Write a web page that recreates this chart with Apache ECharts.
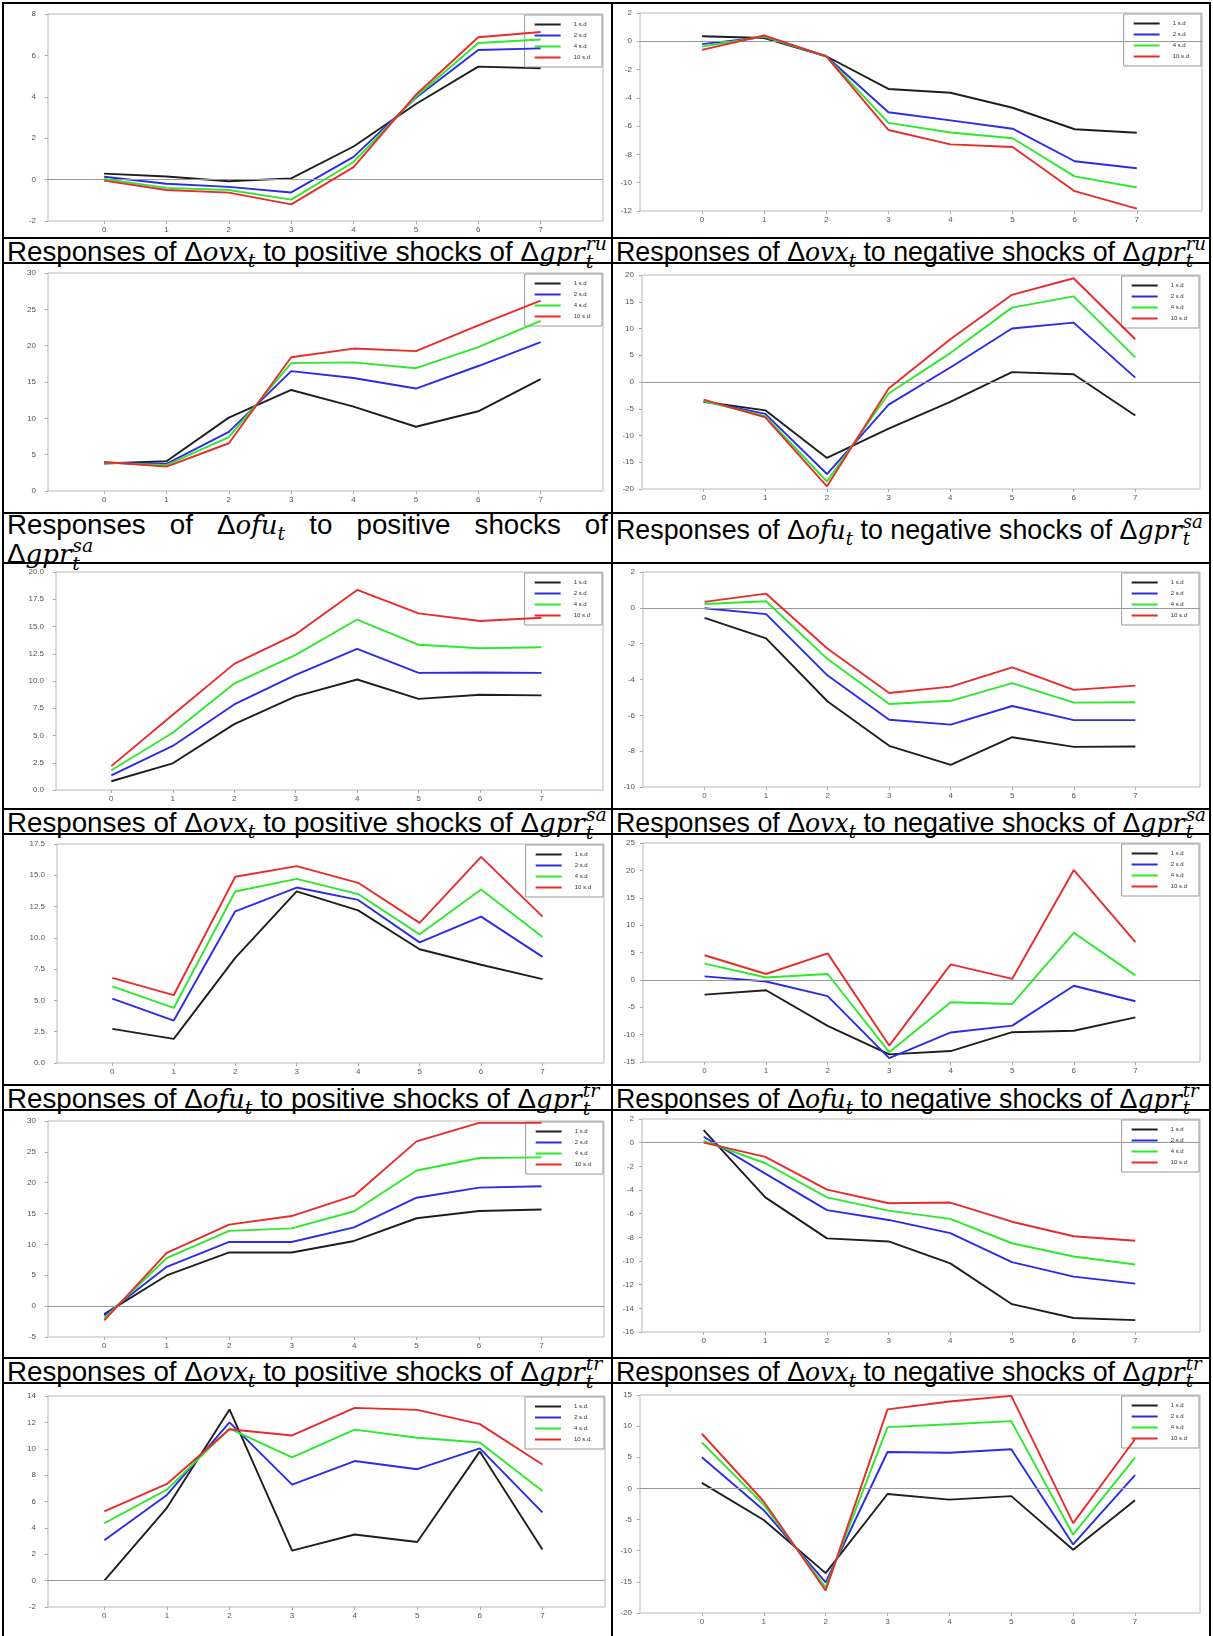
<!DOCTYPE html>
<html><head><meta charset="utf-8">
<script src="https://cdn.jsdelivr.net/npm/echarts/dist/echarts.min.js"></script>
<style>
html,body{margin:0;padding:0;background:#fff;}
body{width:1213px;height:1636px;position:relative;overflow:hidden;font-family:"Liberation Sans",Arial,sans-serif;}
.ln{position:absolute;background:#000;}
.cap{position:absolute;font-size:22px;color:#000;white-space:nowrap;overflow:visible;}
.ci{display:inline-block;white-space:nowrap;}
.m{font-family:"DejaVu Serif","Liberation Serif",serif;font-style:italic;font-size:0.94em;}
.sb{font-size:0.68em;vertical-align:-0.32em;line-height:0;}
.ss{display:inline-flex;flex-direction:column;font-size:0.68em;line-height:0.95;vertical-align:0.6em;margin-left:1px;}
.chart{position:absolute;}
.just{text-align:justify;text-align-last:justify;white-space:normal;}
</style></head>
<body>
<div id="root"></div>
<script>
// ---------------- data ----------------
const HORIZON = [0, 1, 2, 3, 4, 5, 6, 7];
const SD_LABELS = ['1 s.d', '2 s.d', '4 s.d', '10 s.d'];
const SD_LABELS_DOT = ['1 s.d.', '2 s.d.', '4 s.d.', '10 s.d.'];

// each: [1 s.d, 2 s.d, 4 s.d, 10 s.d]
const ovxPosRu = [
  [0.29, 0.15, -0.08, 0.06, 1.6, 3.65, 5.46, 5.38],
  [0.14, -0.2, -0.35, -0.62, 1.1, 3.95, 6.26, 6.34],
  [0.03, -0.4, -0.5, -0.97, 0.85, 4.0, 6.6, 6.77],
  [-0.05, -0.5, -0.63, -1.2, 0.6, 4.1, 6.88, 7.13]];
const ovxNegRu = [
  [0.36, 0.23, -1.06, -3.37, -3.64, -4.7, -6.22, -6.47],
  [-0.2, 0.3, -1.06, -5.02, -5.59, -6.18, -8.48, -8.98],
  [-0.38, 0.34, -1.06, -5.77, -6.45, -6.86, -9.55, -10.34],
  [-0.61, 0.41, -1.06, -6.27, -7.29, -7.47, -10.6, -11.83]];
const ofuPosSa = [
  [3.78, 4.1, 10.1, 13.9, 11.6, 8.84, 10.97, 15.4],
  [3.88, 3.73, 8.13, 16.5, 15.55, 14.1, 17.2, 20.5],
  [3.9, 3.55, 7.4, 17.6, 17.7, 16.9, 19.8, 23.4],
  [4.0, 3.35, 6.57, 18.4, 19.6, 19.25, 22.8, 26.2]];
const ofuNegSa = [
  [-3.7, -5.3, -14.2, -8.7, -3.7, 1.84, 1.46, -6.27],
  [-3.6, -5.95, -17.2, -4.24, 2.7, 10.0, 11.1, 0.82],
  [-3.55, -6.4, -18.6, -2.15, 5.4, 13.9, 16.0, 4.6],
  [-3.3, -6.6, -19.5, -1.2, 8.0, 16.3, 19.4, 8.0]];
const ovxPosSa = [
  [0.8, 2.45, 6.04, 8.59, 10.14, 8.36, 8.74, 8.68],
  [1.34, 4.04, 7.85, 10.56, 12.94, 10.75, 10.78, 10.75],
  [1.81, 5.25, 9.76, 12.4, 15.64, 13.32, 13.0, 13.1],
  [2.19, 6.9, 11.57, 14.28, 18.35, 16.2, 15.5, 15.8]];
const ovxNegSa = [
  [-0.56, -1.7, -5.23, -7.7, -8.76, -7.22, -7.76, -7.74],
  [-0.02, -0.35, -3.78, -6.25, -6.52, -5.48, -6.27, -6.27],
  [0.21, 0.37, -2.86, -5.37, -5.19, -4.2, -5.29, -5.27],
  [0.33, 0.79, -2.28, -4.75, -4.4, -3.32, -4.58, -4.34]];
const ofuPosTr = [
  [2.73, 1.93, 8.4, 13.72, 12.2, 9.09, 7.85, 6.7],
  [5.15, 3.39, 12.12, 14.02, 13.03, 9.64, 11.7, 8.48],
  [6.12, 4.4, 13.7, 14.71, 13.5, 10.28, 13.86, 10.06],
  [6.8, 5.43, 14.88, 15.73, 14.4, 11.2, 16.47, 11.7]];
const ofuNegTr = [
  [-2.7, -1.9, -8.4, -13.6, -13.0, -9.56, -9.3, -6.86],
  [0.63, -0.3, -2.96, -14.3, -9.6, -8.36, -1.07, -3.9],
  [2.96, 0.44, 1.07, -13.2, -4.1, -4.4, 8.6, 0.82],
  [4.5, 1.07, 4.84, -12.0, 2.83, 0.19, 20.06, 6.9]];
const ovxPosTr = [
  [-1.3, 4.97, 8.7, 8.7, 10.56, 14.24, 15.42, 15.65],
  [-1.53, 6.38, 10.4, 10.4, 12.77, 17.57, 19.2, 19.43],
  [-2.0, 7.8, 12.2, 12.6, 15.37, 21.98, 24.0, 24.1],
  [-2.3, 8.64, 13.2, 14.6, 17.9, 26.7, 29.7, 29.7]];
const ovxNegTr = [
  [1.06, -4.62, -8.09, -8.35, -10.2, -13.65, -14.82, -15.0],
  [0.5, -2.62, -5.7, -6.53, -7.65, -10.1, -11.32, -11.91],
  [0.15, -1.74, -4.62, -5.74, -6.44, -8.5, -9.62, -10.3],
  [0.0, -1.2, -3.97, -5.12, -5.06, -6.68, -7.91, -8.29]];
const row6Pos = [
  [0.0, 5.52, 12.98, 2.28, 3.5, 2.93, 9.8, 2.36],
  [3.06, 6.5, 12.0, 7.28, 9.07, 8.45, 10.03, 5.18],
  [4.35, 6.9, 11.53, 9.35, 11.45, 10.83, 10.47, 6.79],
  [5.26, 7.33, 11.48, 11.01, 13.1, 12.95, 11.87, 8.81]];
const row6Neg = [
  [0.9, -5.06, -13.6, -0.9, -1.8, -1.24, -9.85, -1.9],
  [5.0, -3.5, -15.1, 5.85, 5.74, 6.3, -9.0, 2.14],
  [7.37, -2.6, -15.9, 9.85, 10.3, 10.8, -7.43, 4.95],
  [8.78, -2.1, -16.4, 12.7, 13.96, 14.86, -5.57, 7.9]];

// y-axis tick ranges: [min, max, step, decimals]
const Y_OVX_POS_RU = [-2, 8, 2, 0];
const Y_OVX_NEG_RU = [-12, 2, 2, 0];
const Y_OFU_POS_SA = [0, 30, 5, 0];
const Y_OFU_NEG_SA = [-20, 20, 5, 0];
const Y_OVX_POS_SA = [0, 20, 2.5, 1];
const Y_OVX_NEG_SA = [-10, 2, 2, 0];
const Y_OFU_POS_TR = [0, 17.5, 2.5, 1];
const Y_OFU_NEG_TR = [-15, 25, 5, 0];
const Y_OVX_POS_TR = [-5, 30, 5, 0];
const Y_OVX_NEG_TR = [-16, 2, 2, 0];
const Y_ROW6_POS = [-2, 14, 2, 0];
const Y_ROW6_NEG = [-20, 15, 5, 0];

// captions: [response variable, sign, shock superscript]
const CAPTIONS = [
  ['ovx', 'positive', 'ru'], ['ovx', 'negative', 'ru'],
  ['ofu', 'positive', 'sa'], ['ofu', 'negative', 'sa'],
  ['ovx', 'positive', 'sa'], ['ovx', 'negative', 'sa'],
  ['ofu', 'positive', 'tr'], ['ofu', 'negative', 'tr'],
  ['ovx', 'positive', 'tr'], ['ovx', 'negative', 'tr']];

// ---------------- layout ----------------
const COLORS = ['#1e1e1e', '#2b2be8', '#2de82d', '#e82b2b'];
const COLS = [{cellL: 4, cellR: 611, xMin: -0.9, xMax: 8, labMargin: 12, capW: 600},
              {cellL: 613, cellR: 1209, xMin: -1, xMax: 8.05, labMargin: 8, capW: 590}];
const CHART_ROWS = [[4, 237], [264, 512], [564, 808], [835, 1084], [1111, 1357], [1384, 1640]];
const CAP_ROWS = [[239, 262], [514, 562], [810, 833], [1086, 1109], [1359, 1382]];
const HLINES = [2, 237, 262, 512, 562, 808, 833, 1084, 1109, 1357, 1382];
// per panel plot box: [plotLeft, plotRight (page px), top, bottom (px inside cell)]
const BOX = [
  [48, 603, 10, 16], [640, 1202, 9, 26],
  [48, 603, 9, 21], [642, 1200, 11, 23],
  [56, 603, 8, 18], [643, 1200, 8, 21],
  [57, 604, 9, 21], [643, 1200, 8, 22],
  [48, 604, 10, 20], [642, 1200, 8, 25],
  [48, 605, 12, 33], [640, 1200, 11, 27]];

const PANELS = [
  [ovxPosRu, Y_OVX_POS_RU, SD_LABELS], [ovxNegRu, Y_OVX_NEG_RU, SD_LABELS],
  [ofuPosSa, Y_OFU_POS_SA, SD_LABELS], [ofuNegSa, Y_OFU_NEG_SA, SD_LABELS],
  [ovxPosSa, Y_OVX_POS_SA, SD_LABELS], [ovxNegSa, Y_OVX_NEG_SA, SD_LABELS],
  [ofuPosTr, Y_OFU_POS_TR, SD_LABELS], [ofuNegTr, Y_OFU_NEG_TR, SD_LABELS],
  [ovxPosTr, Y_OVX_POS_TR, SD_LABELS], [ovxNegTr, Y_OVX_NEG_TR, SD_LABELS],
  [row6Pos, Y_ROW6_POS, SD_LABELS_DOT], [row6Neg, Y_ROW6_NEG, SD_LABELS]];

const root = document.getElementById('root');
function addLine(x, y, w, h) {
  const d = document.createElement('div');
  d.className = 'ln';
  d.style.cssText = `left:${x}px;top:${y}px;width:${w}px;height:${h}px;`;
  root.appendChild(d);
}

function mathVar(v) {
  return `<span>Δ</span><span class="m">${v}</span><span class="m sb">t</span>`;
}
function mathShock(s) {
  return `<span>Δ</span><span class="m">gpr</span><span class="ss m"><span>${s}</span><span>t</span></span>`;
}
const capDivs = [];
CAPTIONS.forEach((c, i) => {
  const row = Math.floor(i / 2), col = i % 2;
  const [t, b] = CAP_ROWS[row];
  const C = COLS[col];
  const d = document.createElement('div');
  d.className = 'cap';
  d.style.left = (C.cellL + 3) + 'px';
  const single = `Responses of ${mathVar(c[0])} to ${c[1]} shocks of ${mathShock(c[2])}`;
  const wrap = row === 1 && col === 0;
  if (wrap) {
    d.style.top = (t - 1) + 'px';
    d.style.lineHeight = '24px';
    d.style.width = (C.cellR - C.cellL - 6) + 'px';
    d.innerHTML = `<div class="just">Responses of ${mathVar(c[0])} to ${c[1]} shocks of</div><div>${mathShock(c[2])}</div>`;
  } else {
    d.style.top = (row === 1 ? t - 1 : t - 4) + 'px';
    d.style.lineHeight = (row === 1 ? 24 : (b - t)) + 'px';
    d.innerHTML = `<span class="ci">${single}</span>`;
  }
  root.appendChild(d);
  capDivs.push({d, col, wrap});
});
// uniform font size so the first caption of each column fills its cell width
[0, 1].forEach(col => {
  const probe = capDivs[col].d;
  let fs = 22;
  for (let it = 0; it < 3; it++) {
    probe.style.fontSize = fs + 'px';
    const w = probe.firstChild.getBoundingClientRect().width;
    fs = fs * COLS[col].capW / w;
  }
  capDivs.filter(c => c.col === col).forEach(c => { c.d.style.fontSize = fs + 'px'; });
});

HLINES.forEach(y => addLine(2, y, 1209, 2));
addLine(2, 2, 2, 1640);
addLine(611, 2, 2, 1640);
addLine(1209, 2, 2, 1640);

PANELS.forEach((p, i) => {
  const [series, yr, labels] = p;
  const row = Math.floor(i / 2), col = i % 2;
  const C = COLS[col];
  const [t, b] = CHART_ROWS[row];
  const bx = BOX[i];
  const div = document.createElement('div');
  div.className = 'chart';
  const w = C.cellR - C.cellL, h = b - t;
  div.style.cssText = `left:${C.cellL}px;top:${t}px;width:${w}px;height:${h}px;`;
  root.appendChild(div);
  const g = {l: bx[0] - C.cellL, r: C.cellR - bx[1], t: bx[2], b: bx[3]};
  const chart = echarts.init(div, null, {renderer: 'canvas'});
  const hasZero = yr[0] < 0 && yr[1] > 0;
  chart.setOption({
    animation: false,
    grid: {left: g.l, right: g.r, top: g.t, bottom: g.b, show: true, borderColor: '#b8b8b8', borderWidth: 1},
    xAxis: {
      type: 'value', min: C.xMin, max: C.xMax,
      axisLine: {show: false, onZero: false}, splitLine: {show: false},
      axisTick: {show: true, length: 3, lineStyle: {color: '#aaa'}, customValues: HORIZON},
      axisLabel: {fontSize: 8, color: '#555', margin: 5, fontFamily: 'Liberation Sans', customValues: HORIZON,
        formatter: v => String(v)}
    },
    yAxis: {
      type: 'value', min: yr[0], max: yr[1], interval: yr[2],
      axisLine: {show: false, onZero: false}, splitLine: {show: false},
      axisTick: {show: true, length: 3, lineStyle: {color: '#aaa'}},
      axisLabel: {fontSize: 8, color: '#555', margin: C.labMargin, fontFamily: 'Liberation Sans',
        formatter: v => v.toFixed(yr[3])}
    },
    legend: {
      data: labels, orient: 'vertical', right: g.r + 1, top: g.t + 1,
      icon: 'rect', itemWidth: 26, itemHeight: 2, itemGap: 4,
      padding: [6, 12, 6, 10], backgroundColor: '#fff', borderColor: '#999', borderWidth: 1,
      selectedMode: false,
      textStyle: {fontSize: 6, color: '#333', lineHeight: 7, padding: [0, 0, 0, 8], fontFamily: 'Liberation Sans'}
    },
    series: series.map((d, k) => ({
      name: labels[k], type: 'line', data: d.map((v, j) => [HORIZON[j], v]),
      showSymbol: false, symbol: 'none', z: 3 + k,
      lineStyle: {width: 1.9, color: COLORS[k]}, itemStyle: {color: COLORS[k]},
      markLine: (k === 0 && hasZero) ? {
        silent: true, symbol: ['none', 'none'], label: {show: false},
        lineStyle: {color: '#999', width: 1, type: 'solid'}, data: [{yAxis: 0}]
      } : undefined
    }))
  });
});
</script>
</body></html>
